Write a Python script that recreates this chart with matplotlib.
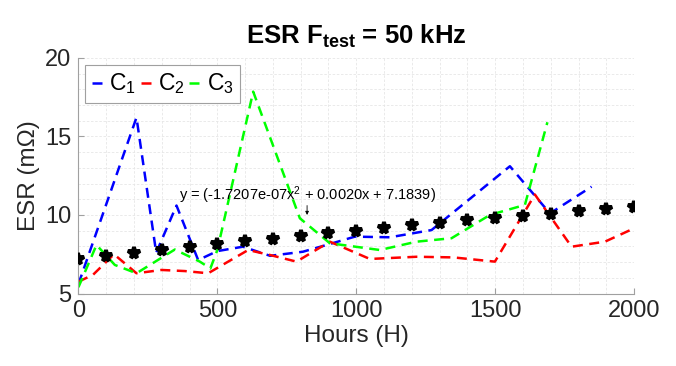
import matplotlib.pyplot as plt
import numpy as np

plt.rcParams['font.family'] = ['Liberation Sans', 'DejaVu Sans']
plt.rcParams['mathtext.fontset'] = 'custom'
plt.rcParams['mathtext.rm'] = 'Liberation Sans'
plt.rcParams['mathtext.it'] = 'Liberation Sans:italic'
plt.rcParams['mathtext.bf'] = 'Liberation Sans:bold'

# C1 (blue)
c1_hours = [0, 209, 280, 353, 431, 500, 592, 690, 808, 893, 995, 1121, 1271, 1553, 1697, 1847]
c1_esr = [5.6, 16.2, 7.6, 10.6, 7.13, 7.7, 7.98, 7.4, 7.66, 8.09, 8.62, 8.58, 9.04, 13.1, 10.1, 11.8]

# C2 (red)
c2_hours = [0, 53, 128, 209, 299, 383, 467, 611, 690, 785, 905, 1049, 1217, 1349, 1499, 1643, 1775, 1895, 2000]
c2_esr = [5.75, 6.2, 7.5, 6.29, 6.5, 6.43, 6.29, 7.77, 7.45, 7.03, 8.3, 7.2, 7.34, 7.3, 7.03, 11.3, 7.98, 8.3, 9.15]

# C3 (green)
c3_hours = [0, 65, 131, 209, 347, 437, 475, 500, 629, 797, 905, 1085, 1217, 1343, 1481, 1607, 1688]
c3_esr = [5.4, 8.09, 6.82, 6.29, 7.8, 7.03, 6.6, 7.77, 17.85, 9.79, 8.2, 7.77, 8.3, 8.52, 10.0, 10.64, 15.9]

# fitted trend (black stars)
fit_hours = [0, 100, 200, 300, 400, 500, 600, 700, 800, 900, 1000,
             1100, 1200, 1300, 1400, 1500, 1600, 1700, 1800, 1900, 2000]
fit_esr = [7.18, 7.38, 7.58, 7.77, 7.96, 8.14, 8.32, 8.50, 8.67, 8.85, 9.01,
           9.18, 9.34, 9.49, 9.65, 9.80, 9.94, 10.09, 10.23, 10.36, 10.50]

fig = plt.figure(figsize=(6.76, 3.66), dpi=100)
ax = fig.add_axes([0.116, 0.198, 0.822, 0.644])

dash = (0, (4, 2.6))
ax.plot(c1_hours, c1_esr, color=(0, 0, 1), lw=1.8, linestyle=dash, label='C$_1$')
ax.plot(c2_hours, c2_esr, color=(1, 0, 0), lw=1.8, linestyle=dash, label='C$_2$')
ax.plot(c3_hours, c3_esr, color=(0, 1, 0), lw=1.8, linestyle=dash, label='C$_3$')
ax.plot(fit_hours, fit_esr, linestyle='none', marker='*', color='black',
        markersize=8.5, markeredgewidth=2.8, zorder=5)

ax.text(823, 11.27, 'y = (-1.7207e-07x$^2$ + 0.0020x + 7.1839)', ha='center', va='center',
        fontsize=10.5, color='black')
ax.annotate('', xy=(823, 10.0), xytext=(823, 10.6),
            arrowprops=dict(arrowstyle='-|>', color='black', lw=0.6, mutation_scale=5,
                            shrinkA=0, shrinkB=0))

ax.set_xlim(0, 2000)
ax.set_ylim(5, 20)
ax.set_xticks([0, 500, 1000, 1500, 2000])
ax.set_yticks([5, 10, 15, 20])
ax.set_xticks(np.arange(0, 2001, 100), minor=True)
ax.set_yticks(np.arange(5, 21, 1), minor=True)
ax.grid(which='both', color='#e6e6e6', linestyle=(0, (3, 2)), linewidth=0.6)
ax.set_axisbelow(True)

for side in ['top', 'right']:
    ax.spines[side].set_visible(False)
for side in ['left', 'bottom']:
    ax.spines[side].set_color('#a0a0a0')
    ax.spines[side].set_linewidth(0.8)
ax.tick_params(which='major', direction='in', length=4, color='#a0a0a0',
               labelsize=17, labelcolor='#262626', pad=5)
ax.tick_params(which='minor', length=0)

ax.set_xlabel('Hours (H)', fontsize=17.5, color='#262626', labelpad=2)
ax.set_ylabel('ESR (m\u03A9)', fontsize=17.5, color='#262626', labelpad=4)
ax.set_title('ESR F$_{\\mathbf{test}}$ = 50 kHz', fontsize=18.5, fontweight='bold', pad=10)

leg = ax.legend(loc='upper left', ncol=3, fontsize=16.5, handlelength=0.45, handletextpad=0.3,
                columnspacing=0.2, borderpad=0.3, borderaxespad=0.3, fancybox=False,
                framealpha=1)
leg.get_frame().set_edgecolor('#a0a0a0')
leg.get_frame().set_linewidth(0.8)

fig.savefig('out.png', dpi=100)
